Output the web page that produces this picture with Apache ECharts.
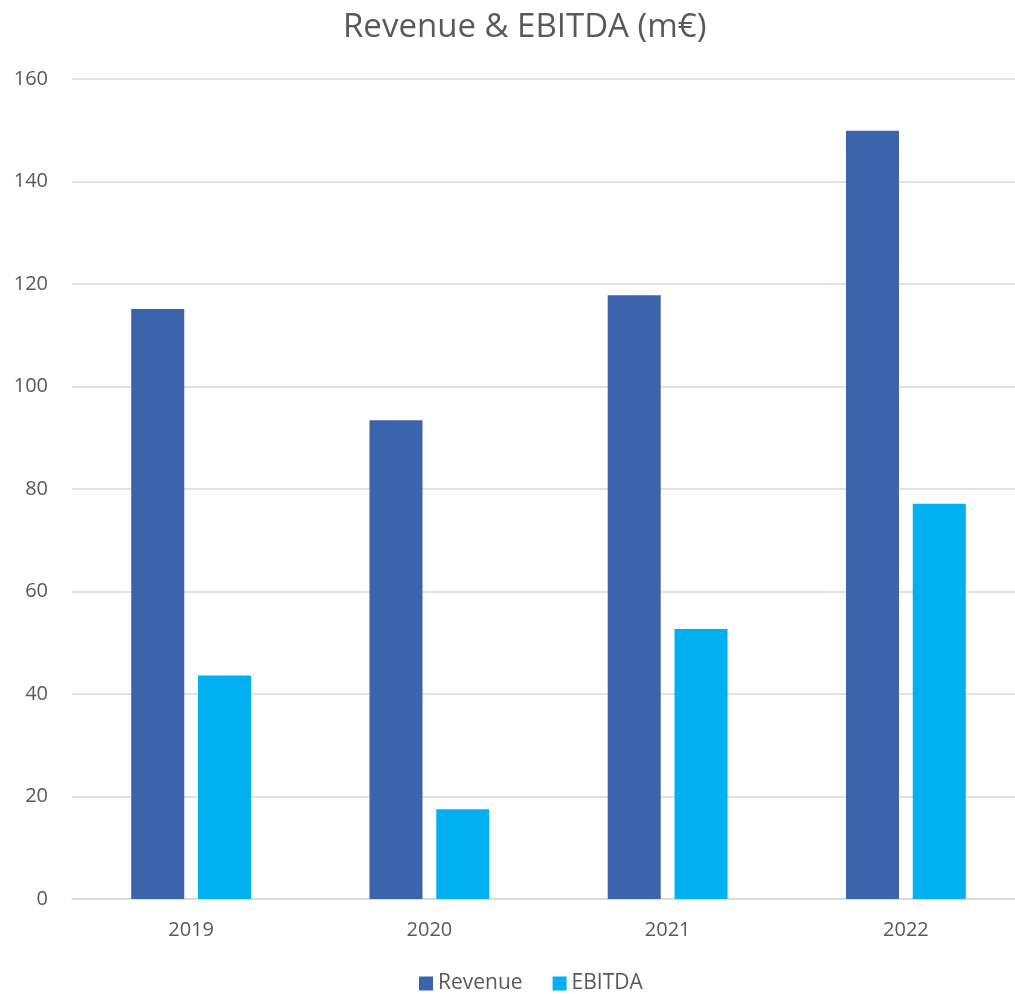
<!DOCTYPE html>
<html>
<head>
<meta charset="utf-8">
<script src="https://cdn.jsdelivr.net/npm/echarts@6/dist/echarts.min.js"></script>
<style>
  html, body { margin: 0; padding: 0; background: #ffffff; overflow: hidden; }
  #chart { width: 1030px; height: 994px; }
</style>
</head>
<body>
<div id="chart"></div>
<script>
// Yearly figures in millions of euros
const years = ['2019', '2020', '2021', '2022'];
const revenue = [115.1, 93.4, 117.8, 149.9];
const ebitda = [43.6, 17.5, 52.7, 77.1];
const seriesNames = ['Revenue', 'EBITDA'];

const font = '"Open Sans", "Noto Sans", sans-serif';
const textColor = '#595959';

// The plot area runs slightly past the right edge of the visible page.
const chart = echarts.init(document.getElementById('chart'), null, { renderer: 'canvas' });
chart.setOption({
  animation: false,
  backgroundColor: '#ffffff',
  title: {
    text: 'Revenue & EBITDA (m€)',
    left: 338,
    top: 6,
    textStyle: { color: textColor, fontFamily: font, fontSize: 33, fontWeight: 'normal' }
  },
  legend: {
    top: 968,
    left: 414,
    itemWidth: 14,
    itemHeight: 14,
    itemGap: 30,
    icon: 'rect',
    textStyle: { color: textColor, fontFamily: font, fontSize: 21 },
    data: seriesNames
  },
  grid: { left: 72, right: 5, top: 79, bottom: 95, containLabel: false },
  xAxis: {
    type: 'category',
    data: years,
    axisLine: { lineStyle: { color: '#d9d9d9', width: 1.5 } },
    axisTick: { show: false },
    axisLabel: { color: textColor, fontFamily: font, fontSize: 20, margin: 21 }
  },
  yAxis: {
    type: 'value',
    min: 0,
    max: 160,
    interval: 20,
    axisLine: { show: false },
    axisTick: { show: false },
    axisLabel: { color: textColor, fontFamily: font, fontSize: 20, margin: 24 },
    splitLine: { lineStyle: { color: '#d9d9d9', width: 1.5 } }
  },
  series: [
    {
      name: seriesNames[0],
      type: 'bar',
      data: revenue,
      barWidth: 53,
      barGap: '26%',
      itemStyle: { color: '#3c64ac' }
    },
    {
      name: seriesNames[1],
      type: 'bar',
      data: ebitda,
      barWidth: 53,
      itemStyle: { color: '#00b0f0' }
    }
  ]
});
</script>
</body>
</html>
